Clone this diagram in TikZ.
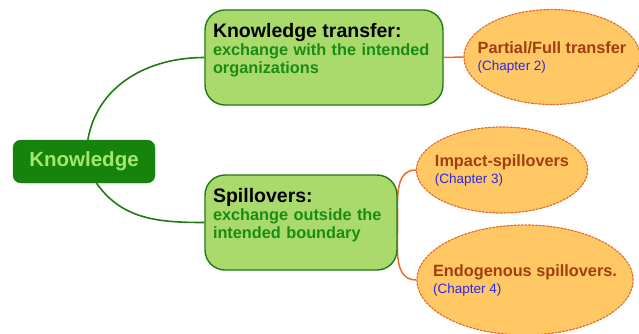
\documentclass[tikz,border=0pt]{standalone}
\usepackage{fontspec}
\setmainfont{Liberation Sans}
\usepackage{tikz}
\definecolor{darkgreen}{RGB}{34,122,22}
\definecolor{leafgreen}{RGB}{170,218,108}
\definecolor{rootgreen}{RGB}{22,132,12}
\definecolor{paletext}{RGB}{165,230,110}
\definecolor{subgreen}{RGB}{25,140,20}
\definecolor{peach}{RGB}{255,200,100}
\definecolor{rust}{RGB}{230,110,45}
\definecolor{brownish}{RGB}{160,62,15}
\definecolor{chapblue}{RGB}{45,40,230}
\usetikzlibrary{shapes.geometric}
\pgfdeclarelayer{back}
\pgfsetlayers{back,main}
\newcommand{\chapnote}[1]{{\fontsize{13.5}{15}\selectfont\mdseries\color{chapblue}(Chapter #1)}}
\newcommand{\boxtitle}[1]{{\fontsize{19.5}{18}\selectfont\color{black}#1}}

\begin{document}
\begin{tikzpicture}[x=1pt, y=1pt, line cap=round, line join=round,
	rootbox/.style={draw=darkgreen, fill=rootgreen, rounded corners=8pt, minimum width=142pt, minimum height=43pt, font=\fontsize{20.5}{22}\selectfont\bfseries, text=paletext},
	topicbox/.style={draw=darkgreen, line width=1.4pt, fill=leafgreen, rounded corners=20pt, minimum height=95pt, inner xsep=8pt, inner ysep=6pt, text height=21pt, text depth=62pt, align=left, font=\fontsize{16.3}{18}\selectfont\bfseries, text=subgreen},
	chapoval/.style={ellipse, draw=rust, dash pattern=on 2pt off 1.6pt, line width=1.2pt, fill=peach, inner ysep=0pt, align=left, font=\fontsize{16.3}{17}\selectfont\bfseries, text=brownish},
	branch/.style={draw=darkgreen, line width=1.6pt},
	twig/.style={draw=rust, line width=1.5pt}]
	\useasboundingbox (0,0) rectangle (639,333);

	% main topic and its two branches
	\node [rootbox] (root) at (84,171.5) {Knowledge};
	\node [topicbox, text width=222pt] (transfer) at (324,275.5) {\boxtitle{Knowledge transfer:}\\exchange with the intended\\organizations};
	\node [topicbox, text width=176pt] (spill) at (301,110.5) {\boxtitle{Spillovers:}\\exchange outside the\\intended boundary};

	% chapters
	\node [chapoval, inner xsep=-12pt, minimum height=95pt] (partial) at (552,276) {Partial/Full transfer\\\chapnote{2}};
	\node [chapoval, inner xsep=-6.5pt, minimum height=86pt] (impact) at (502,163) {Impact-spillovers\\\chapnote{3}};
	\node [chapoval, inner xsep=-15.5pt, minimum height=110pt] (endo) at (525,53) {Endogenous spillovers.\\\chapnote{4}};

	\begin{pgfonlayer}{back}
	\draw [branch] (root.80) to[out=80,in=180] (transfer.west);
	\draw [branch] (root.-60) to[out=-55,in=180] (spill.west);
	\draw [twig] (transfer.east) -- (partial.west);
	\draw [twig] (spill.east) to[out=90,in=180] (impact.west);
	\draw [twig] (spill.east) to[out=-90,in=180] (endo.west);
	\end{pgfonlayer}
\end{tikzpicture}
\end{document}
